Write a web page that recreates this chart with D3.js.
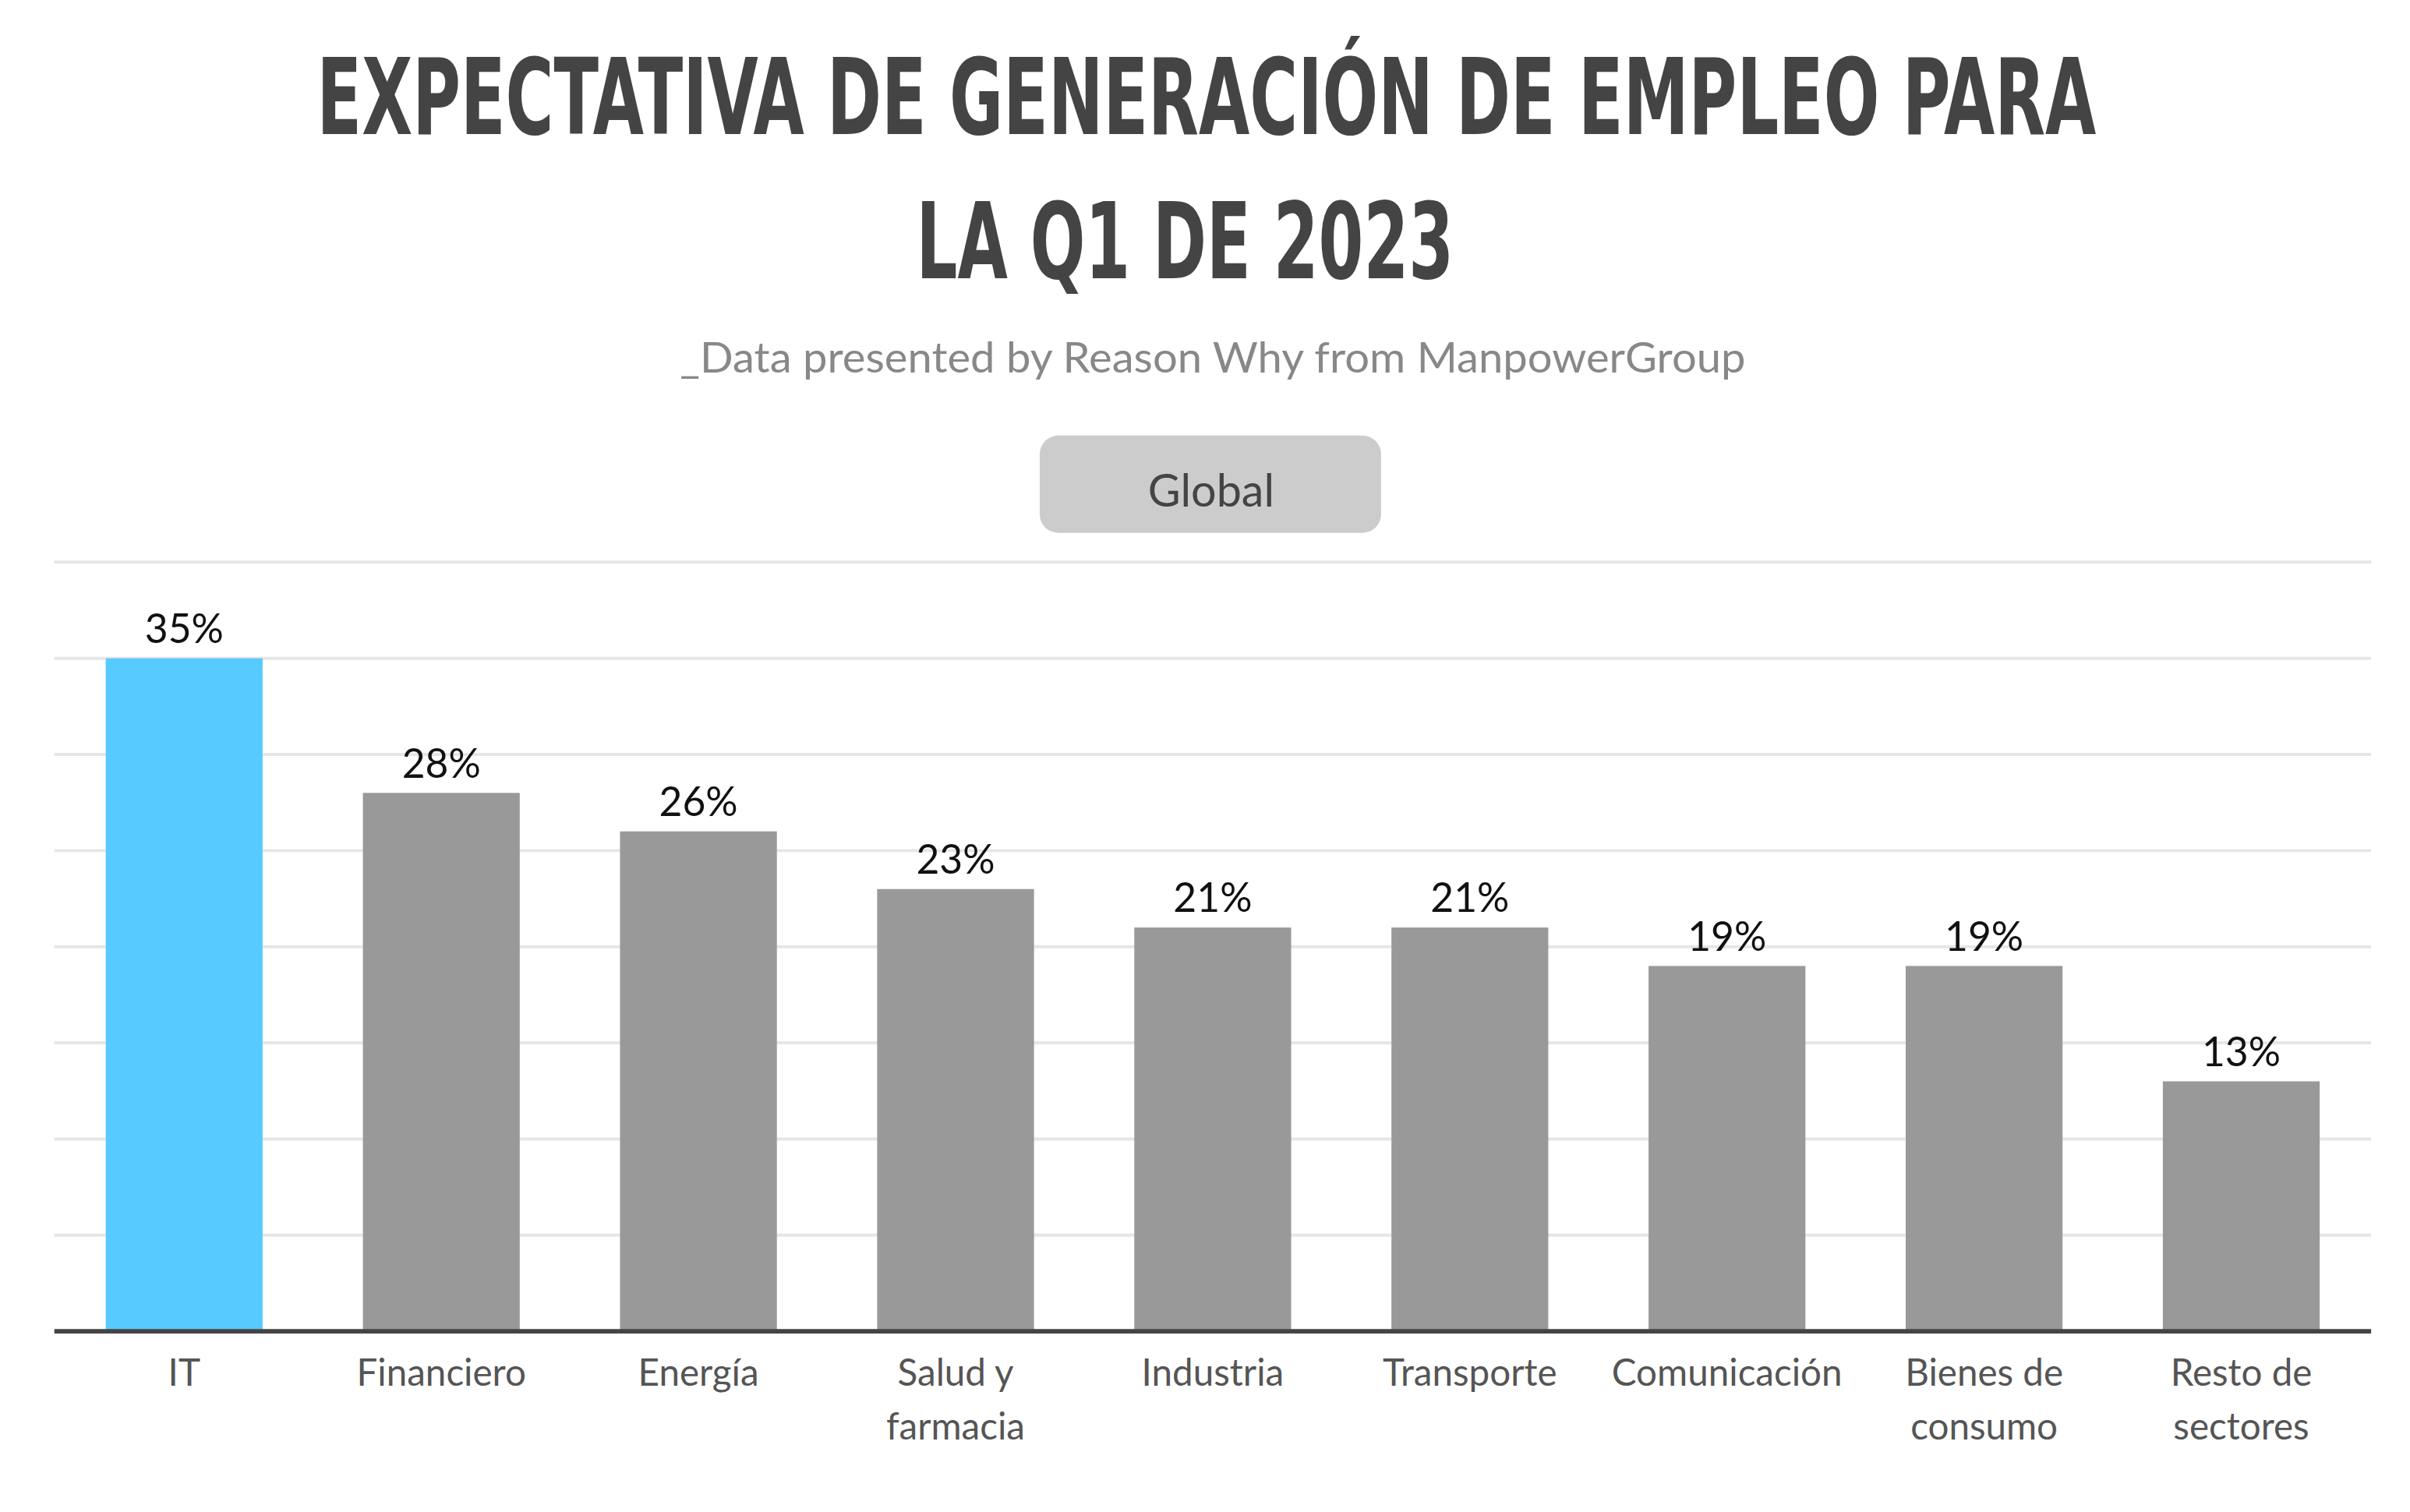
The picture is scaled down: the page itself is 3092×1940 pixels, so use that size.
<!DOCTYPE html>
<html>
<head>
<meta charset="utf-8">
<script src="https://cdn.jsdelivr.net/npm/d3@7"></script>
<style>
  html, body { margin: 0; padding: 0; background: white; }
</style>
</head>
<body>
<div id="chart"></div>
<script>
const categories = ["IT", "Financiero", "Energía", "Salud y\nfarmacia", "Industria", "Transporte", "Comunicación", "Bienes de\nconsumo", "Resto de\nsectores"];
const values = [35, 28, 26, 23, 21, 21, 19, 19, 13];
const gridTicks = [5, 10, 15, 20, 25, 30, 35, 40];

const W = 1560, H = 979;
const svg = d3.select("#chart").append("svg")
  .attr("width", 3092).attr("height", 1940)
  .attr("viewBox", `0 0 ${W} ${H}`)
  .style("background-color", "white");

// titles (condensed face stretched to the reference width)
const title = svg.append("g")
  .attr("font-family", "'DejaVu Sans Condensed', 'Liberation Sans Narrow', sans-serif")
  .attr("font-weight", "bold").attr("fill", "#444");
title.append("text").attr("x", 205).attr("y", 87).attr("font-size", 68)
  .attr("textLength", 1152).attr("lengthAdjust", "spacingAndGlyphs")
  .text("EXPECTATIVA DE GENERACIÓN DE EMPLEO PARA");
title.append("text").attr("x", 593).attr("y", 180).attr("font-size", 68)
  .attr("textLength", 348).attr("lengthAdjust", "spacingAndGlyphs")
  .text("LA Q1 DE 2023");

svg.append("text").attr("x", 785).attr("y", 241).attr("text-anchor", "middle")
  .attr("font-family", "Lato, sans-serif").attr("font-size", 27).attr("fill", "#888")
  .attr("textLength", 690).attr("lengthAdjust", "spacingAndGlyphs")
  .text("_Data presented by Reason Why from ManpowerGroup");

// legend button
svg.append("rect").attr("x", 673).attr("y", 282).attr("width", 221).attr("height", 63)
  .attr("rx", 12).attr("fill", "#cccccc");
svg.append("text").attr("x", 784).attr("y", 328).attr("text-anchor", "middle")
  .attr("font-family", "Lato, sans-serif").attr("font-size", 29).attr("fill", "#444").text("Global");

const x = d3.scaleBand().domain(d3.range(categories.length)).range([35, 1535]).paddingInner(0.39).paddingOuter(0.2);
const y = d3.scaleLinear().domain([0, 40]).range([862, 364]);

svg.append("g").selectAll("line").data(gridTicks).join("line")
  .attr("x1", 35).attr("x2", 1535)
  .attr("y1", d => y(d)).attr("y2", d => y(d))
  .attr("stroke", "#e6e6e6").attr("stroke-width", 2);

svg.append("g").selectAll("rect").data(values).join("rect")
  .attr("x", (d, i) => x(i)).attr("width", x.bandwidth())
  .attr("y", d => y(d)).attr("height", d => y(0) - y(d))
  .attr("fill", (d, i) => i === 0 ? "#57cbff" : "#999999");

svg.append("g").selectAll("text").data(values).join("text")
  .attr("x", (d, i) => x(i) + x.bandwidth() / 2).attr("y", d => y(d) - 10)
  .attr("text-anchor", "middle").attr("font-family", "Lato, sans-serif")
  .attr("font-size", 26).attr("fill", "#111").text(d => d + "%");

const xAxis = svg.append("g").attr("transform", `translate(0,${y(0)})`)
  .call(d3.axisBottom(x).tickSize(0).tickFormat(""));
xAxis.select(".domain").attr("stroke", "#444").attr("stroke-width", 3).attr("d", "M35,0H1535");

const labels = svg.append("g").selectAll("text").data(categories).join("text")
  .attr("text-anchor", "middle").attr("font-family", "Lato, sans-serif")
  .attr("font-size", 24).attr("fill", "#555")
  .attr("transform", (d, i) => `translate(${x(i) + x.bandwidth() / 2},897)`);
labels.each(function (d) {
  d.split("\n").forEach((line, j) => {
    d3.select(this).append("tspan").attr("x", 0).attr("y", j * 35).text(line);
  });
});
</script>
</body>
</html>
